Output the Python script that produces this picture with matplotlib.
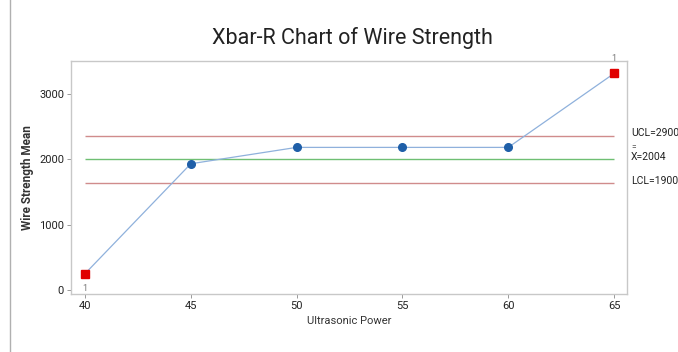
import numpy as np
import matplotlib; matplotlib.use("Agg")
import matplotlib.pyplot as plt
from matplotlib.lines import Line2D

power = [40, 45, 50, 55, 60, 65]
means = [250, 1930, 2180, 2180, 2180, 3310]
out_of_ctrl = [True, False, False, False, False, True]
ucl_line, cl_line, lcl_line = 2350, 2000, 1635
ctrl_labels = ["UCL=2900", "X=2004", "LCL=1900"]

plt.rcParams['font.family'] = ['Roboto', 'DejaVu Sans']

fig = plt.figure(figsize=(6.78, 3.52), dpi=100)
fig.patch.set_facecolor("white")
ax = fig.add_axes([71/678, 1-294/352, (627-71)/678, (294-61)/352])

for s in ax.spines.values():
    s.set_color("#c8c8c8"); s.set_linewidth(1.0)
ax.tick_params(direction="out", length=3, width=0.7, color="#999999",
               labelsize=8, labelcolor="#222222", pad=2)

ax.hlines(ucl_line, power[0], power[-1], color="#d08c8c", linewidth=1.0)
ax.hlines(lcl_line, power[0], power[-1], color="#d08c8c", linewidth=1.0)
ax.hlines(cl_line, power[0], power[-1], color="#6fbf73", linewidth=1.0)

ax.plot(power, means, color="#8fb1dc", linewidth=0.9, zorder=2)
for x, y, bad in zip(power, means, out_of_ctrl):
    if bad:
        ax.plot(x, y, marker="s", markersize=5.5, color="#e00000", zorder=3)
        dy = -230 if y < cl_line else 230
        ax.text(x, y + dy, "1", ha="center", va="center", fontsize=6.5, color="#777777")
    else:
        ax.plot(x, y, marker="o", markersize=5.5, color="#1f5fa8", zorder=3)

ax.set_xlim(39.34, 65.61)
ax.set_ylim(-60, 3500)
ax.set_xticks(power)
ax.set_yticks([0, 1000, 2000, 3000])

ax.set_xlabel("Ultrasonic Power", fontsize=8, color="#333333", labelpad=4)
ax.set_ylabel("Wire Strength Mean", fontsize=8.5, color="#333333", fontweight="bold", labelpad=4)

tx = 631/678
fig.text(tx, 1-133/352, ctrl_labels[0], fontsize=7.5, color="#222222", va="center")
fig.text(tx, 1-147/352, "=", fontsize=6, color="#222222", va="center")
fig.text(tx, 1-157/352, ctrl_labels[1], fontsize=7.5, color="#222222", va="center")
fig.text(tx, 1-181/352, ctrl_labels[2], fontsize=7.5, color="#222222", va="center")

fig.text(352/678, 1-38/352, "Xbar-R Chart of Wire Strength", ha="center", va="center",
         fontsize=15.5, color="#222222")

fig.add_artist(Line2D([10/678, 10/678], [0, 1], color="#b0b0b0", linewidth=1.0))

plt.savefig("out.png", dpi=100, facecolor="white")
